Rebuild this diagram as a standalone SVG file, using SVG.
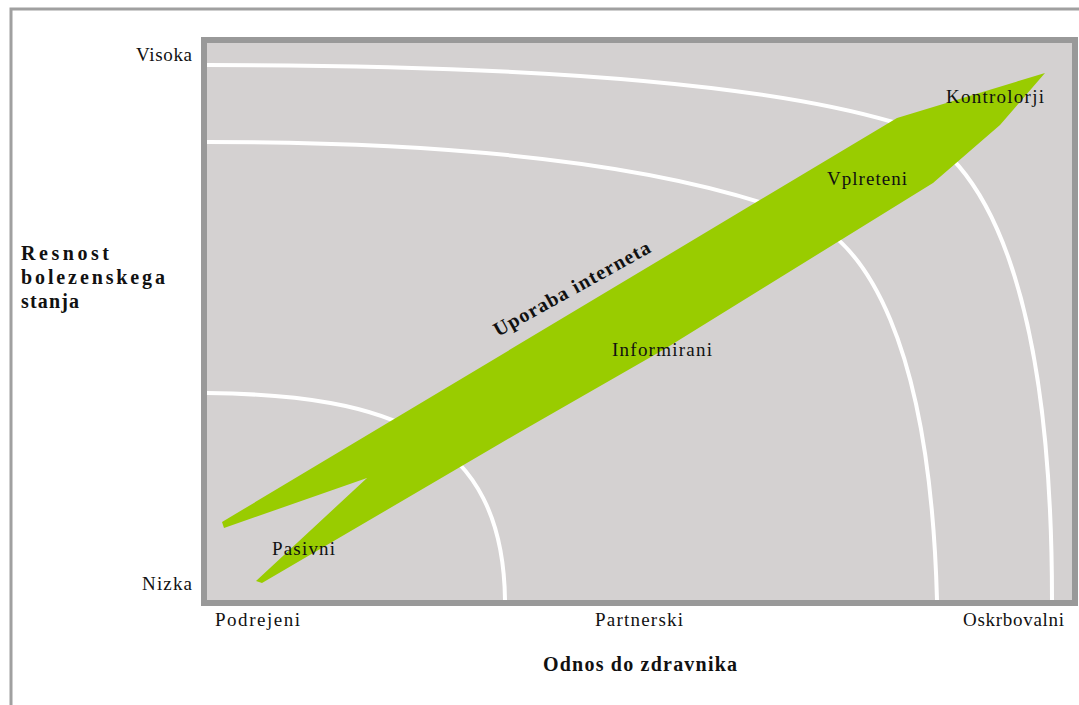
<svg xmlns="http://www.w3.org/2000/svg" width="1079" height="705" viewBox="0 0 1079 705">
<style>
.lbl{font-family:"Liberation Serif","Times New Roman",serif;font-size:19px;fill:#111}
.bold{font-family:"Liberation Serif","Times New Roman",serif;font-size:20px;font-weight:bold;fill:#111}
.arc{fill:none;stroke:#ffffff;stroke-width:4;stroke-linecap:butt}
</style>
<rect x="0" y="0" width="1079" height="705" fill="#ffffff"/>
<rect x="11" y="9" width="1090" height="720" fill="#ffffff" stroke="#a0a0a0" stroke-width="3"/>
<g id="plot">
<rect x="204" y="40" width="871" height="563" fill="#d4d1d1" stroke="#999999" stroke-width="6"/>
</g>
<g id="arcs">
<path class="arc" d="M207,65 C500,65 750,80 893,122 C990,150 1052,300 1052,600"/>
<path class="arc" d="M207,142 C450,142 660,162 800,216 C865,240 930,340 937,600"/>
<path class="arc" d="M207,393 C390,395 503,435 505,600"/>
</g>
<g id="band">
<polygon fill="#99cc00" points="1045,73 897,118 222,522 224,528 367,478 256,581 262,583 520,432 663,350 933,183 1000,125"/>
</g>
<g id="y-axis">
<text class="lbl" x="192" y="61" text-anchor="end" textLength="56" lengthAdjust="spacing">Visoka</text>
<text class="lbl" x="192" y="590" text-anchor="end" textLength="50" lengthAdjust="spacing">Nizka</text>
<text class="bold" x="21" y="260" textLength="88" lengthAdjust="spacing">Resnost</text>
<text class="bold" x="21" y="284" textLength="144" lengthAdjust="spacing">bolezenskega</text>
<text class="bold" x="21" y="308" textLength="58" lengthAdjust="spacing">stanja</text>
</g>
<g id="x-axis">
<text class="lbl" x="215" y="626" textLength="85" lengthAdjust="spacing">Podrejeni</text>
<text class="lbl" x="595" y="626" textLength="88" lengthAdjust="spacing">Partnerski</text>
<text class="lbl" x="963" y="626" textLength="101" lengthAdjust="spacing">Oskrbovalni</text>
<text class="bold" x="543" y="671" textLength="194" lengthAdjust="spacing">Odnos do zdravnika</text>
</g>
<g id="stages">
<text class="lbl" x="272" y="555" textLength="63" lengthAdjust="spacing">Pasivni</text>
<text class="lbl" x="612" y="356" textLength="100" lengthAdjust="spacing">Informirani</text>
<text class="lbl" x="827" y="185" textLength="80" lengthAdjust="spacing">Vplreteni</text>
<text class="lbl" x="946" y="103" textLength="98" lengthAdjust="spacing">Kontrolorji</text>
</g>
<g id="band-label">
<text class="bold" x="0" y="0" transform="translate(498,337) rotate(-29)" textLength="176" lengthAdjust="spacing">Uporaba interneta</text>
</g>
</svg>
